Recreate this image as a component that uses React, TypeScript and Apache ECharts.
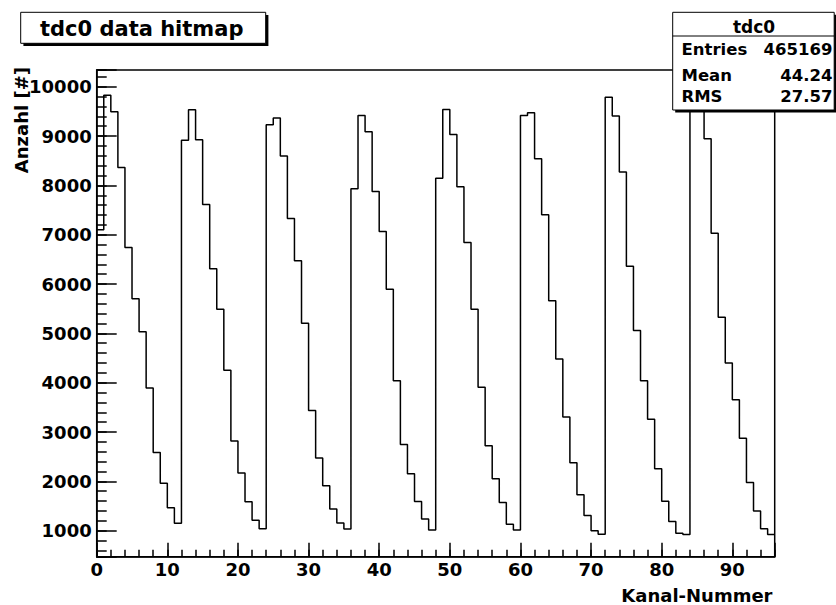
import React, { useEffect, useRef } from "react";
import * as echarts from "echarts";

// Histogram "tdc0": counts per channel (bin i spans [i, i+1))
const hitCounts: number[] = [
  7100, 9830, 9495, 8365, 6740, 5700, 5035, 3890, 2585, 1960, 1465, 1150,
  8915, 9535, 8925, 7615, 6310, 5490, 4250, 2820, 2170, 1585, 1210, 1040,
  9230, 9365, 8595, 7330, 6475, 5205, 3435, 2475, 1910, 1440, 1155, 1035,
  7930, 9420, 9090, 7875, 7065, 5895, 4040, 2745, 2155, 1590, 1235, 1015,
  8145, 9540, 9030, 7975, 6840, 5490, 3910, 2720, 2050, 1570, 1130, 1015,
  9420, 9475, 8540, 7405, 5660, 4480, 3305, 2375, 1730, 1305, 1000, 925,
  9785, 9405, 8270, 6360, 5060, 4040, 3260, 2255, 1595, 1185, 945, 920,
  9650, 9890, 8945, 7030, 5325, 4400, 3655, 2875, 1975, 1400, 1040, 920,
];

const xRange: number[] = [0, 96];
const yRange: number[] = [472, 10340];
const xMajorStep = 10;
const xMinorStep = 2;
const yMajorStep = 1000;
const yMinorStep = 200;

const titleText = "tdc0 data hitmap";
const xAxisTitle = "Kanal-Nummer";
const yAxisTitle = "Anzahl [#]";
const statsName = "tdc0";
const statsLabels: string[] = ["Entries", "Mean", "RMS"];
const statsValues: string[] = ["465169", "44.24", "27.57"];

const FONT = '"DejaVu Sans", "Liberation Sans", sans-serif';

export default function App() {
  const ref = useRef<HTMLDivElement>(null);

  useEffect(() => {
    if (!ref.current) return;
    const chart = echarts.init(ref.current, undefined, { renderer: "svg" });

    const stepData: number[][] = hitCounts.map((v, i) => [i, v]);
    stepData.push([hitCounts.length, hitCounts[hitCounts.length - 1]]);

    const axisText = {
      fontFamily: FONT,
      fontWeight: "bold" as const,
      fontSize: 18,
      color: "#000",
    };

    const statsRowY = [49.5, 75, 96.5];

    const option: any = {
      animation: false,
      backgroundColor: "#fff",
      grid: {
        left: 96.7,
        top: 70,
        width: 678,
        height: 486.7,
        show: true,
        borderColor: "#000",
        borderWidth: 1.5,
        backgroundColor: "transparent",
      },
      xAxis: [
        {
          type: "value",
          min: xRange[0],
          max: xRange[1],
          interval: xMajorStep,
          position: "bottom",
          axisLine: { show: true, lineStyle: { color: "#000", width: 1.5 } },
          axisTick: { show: true, inside: true, length: 14, lineStyle: { color: "#000", width: 1.5 } },
          axisLabel: {
            ...axisText,
            margin: 4,
            formatter: (v: number) => (v % xMajorStep === 0 && v < xRange[1] ? String(v) : ""),
          },
          splitLine: { show: false },
        },
        {
          type: "value",
          min: xRange[0],
          max: xRange[1],
          interval: xMinorStep,
          position: "bottom",
          axisLine: { show: false },
          axisTick: { show: true, inside: true, length: 7, lineStyle: { color: "#000", width: 1.5 } },
          axisLabel: { show: false },
          splitLine: { show: false },
        },
      ],
      yAxis: [
        {
          type: "value",
          min: yRange[0],
          max: yRange[1],
          minInterval: yMajorStep,
          maxInterval: yMajorStep,
          splitNumber: 10,
          position: "left",
          axisLine: { show: true, lineStyle: { color: "#000", width: 1.5 } },
          axisTick: { show: true, inside: true, length: 20, lineStyle: { color: "#000", width: 1.5 } },
          axisLabel: {
            ...axisText,
            margin: 5,
            formatter: (v: number) => (v % yMajorStep === 0 ? String(v) : ""),
          },
          splitLine: { show: false },
        },
        {
          type: "value",
          min: yRange[0],
          max: yRange[1],
          minInterval: yMinorStep,
          maxInterval: yMinorStep,
          splitNumber: 50,
          position: "left",
          offset: 0,
          axisLine: { show: false },
          axisTick: { show: true, inside: true, length: 10, lineStyle: { color: "#000", width: 1.5 } },
          axisLabel: { show: false },
          splitLine: { show: false },
        },
      ],
      series: [
        {
          type: "line",
          xAxisIndex: 0,
          yAxisIndex: 0,
          step: "end",
          data: stepData,
          symbol: "none",
          clip: true,
          lineStyle: { color: "#000", width: 1.5 },
          z: 3,
        },
      ],
      graphic: [
        // title pave
        { type: "rect", z: 100, shape: { x: 23.4, y: 15, width: 245, height: 31 }, style: { fill: "#000" } },
        { type: "rect", z: 101, shape: { x: 20.7, y: 12.3, width: 245, height: 31 }, style: { fill: "#fff", stroke: "#000", lineWidth: 1 } },
        {
          type: "text", z: 102, x: 141.7, y: 28.5,
          style: { text: titleText, font: `bold 21px ${FONT}`, fill: "#000", align: "center", verticalAlign: "middle" },
        },
        // axis titles
        {
          type: "text", z: 102, x: 772.5, y: 595.5,
          style: { text: xAxisTitle, font: `bold 18px ${FONT}`, fill: "#000", align: "right", verticalAlign: "middle" },
        },
        {
          type: "text", z: 102, x: 21, y: 67, rotation: Math.PI / 2,
          style: { text: yAxisTitle, font: `bold 18px ${FONT}`, fill: "#000", align: "right", verticalAlign: "middle" },
        },
        // stats box
        { type: "rect", z: 100, shape: { x: 675.2, y: 14.8, width: 161.5, height: 97.7 }, style: { fill: "#000" } },
        { type: "rect", z: 101, shape: { x: 672.7, y: 12.3, width: 161.5, height: 97.7 }, style: { fill: "#fff", stroke: "#000", lineWidth: 1 } },
        { type: "line", z: 102, shape: { x1: 672.7, y1: 36, x2: 834.2, y2: 36 }, style: { stroke: "#000", lineWidth: 1 } },
        {
          type: "text", z: 102, x: 754, y: 27,
          style: { text: statsName, font: `bold 17px ${FONT}`, fill: "#000", align: "center", verticalAlign: "middle" },
        },
        ...statsLabels.map((lab, i) => ({
          type: "text", z: 102, x: 681.5, y: statsRowY[i],
          style: { text: lab, font: `bold 16.5px ${FONT}`, fill: "#000", align: "left", verticalAlign: "middle" },
        })),
        ...statsValues.map((val, i) => ({
          type: "text", z: 102, x: 832.5, y: statsRowY[i],
          style: { text: val, font: `bold 16.5px ${FONT}`, fill: "#000", align: "right", verticalAlign: "middle" },
        })),
      ],
    };

    chart.setOption(option);
    return () => chart.dispose();
  }, []);

  return (
    <div
      ref={ref}
      style={{ position: "fixed", left: 0, top: 0, width: 836, height: 605, background: "#fff" }}
    />
  );
}
